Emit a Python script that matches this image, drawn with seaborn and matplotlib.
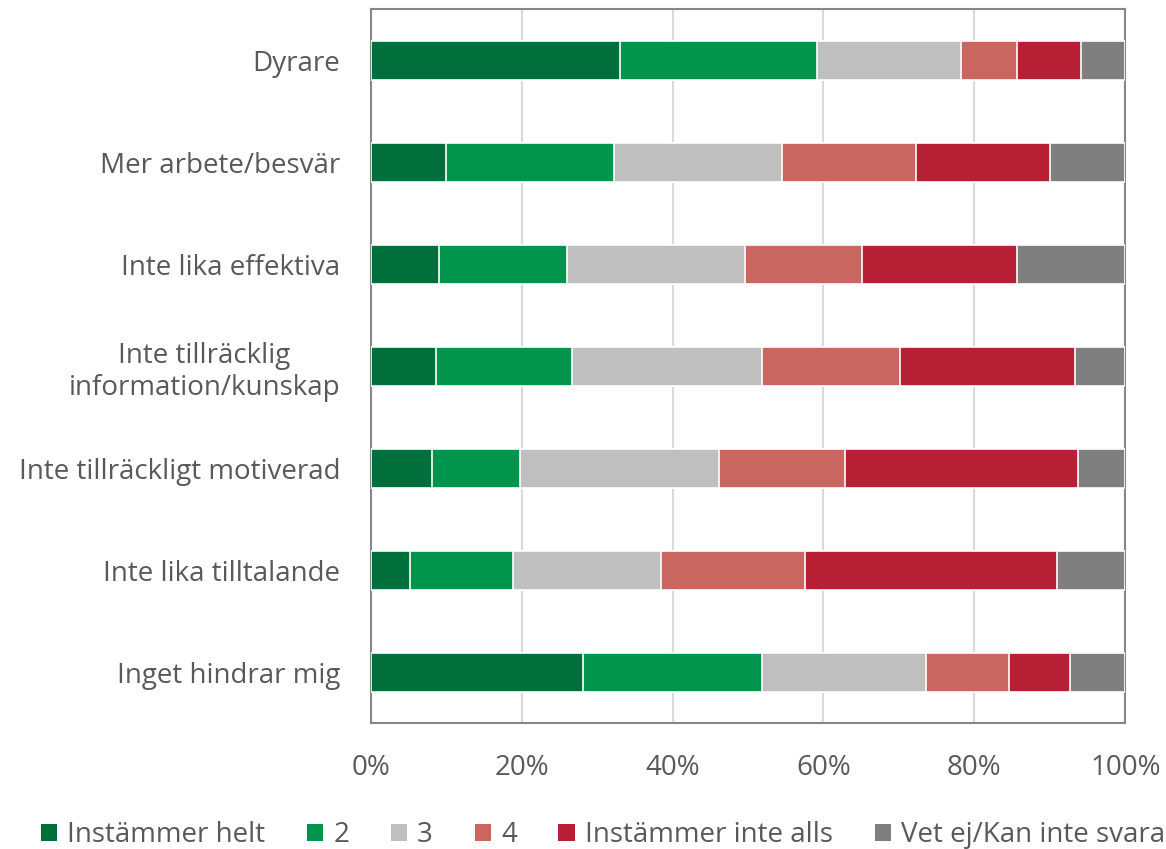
import numpy as np
import pandas as pd
import matplotlib
matplotlib.use('Agg')
import matplotlib.pyplot as plt
from matplotlib.patches import Patch
from matplotlib.ticker import PercentFormatter
import seaborn as sns

# Survey categories (top to bottom)
categories = [
    'Dyrare',
    'Mer arbete/besvär',
    'Inte lika effektiva',
    'Inte tillräcklig\ninformation/kunskap',
    'Inte tillräckligt motiverad',
    'Inte lika tilltalande',
    'Inget hindrar mig',
]

# Answer shares in percent, one list per answer option
helt = [33.1, 10.0, 9.1, 8.6, 8.1, 5.2, 28.1]
svar2 = [26.0, 22.3, 16.9, 18.1, 11.7, 13.7, 23.8]
svar3 = [19.1, 22.2, 23.6, 25.2, 26.4, 19.6, 21.7]
svar4 = [7.5, 17.8, 15.5, 18.2, 16.6, 19.0, 11.0]
inte_alls = [8.5, 17.7, 20.5, 23.2, 31.0, 33.5, 8.1]
vet_ej = [5.8, 10.0, 14.4, 6.7, 6.2, 9.0, 7.3]

series_names = ['Instämmer helt', '2', '3', '4', 'Instämmer inte alls', 'Vet ej/Kan inte svara']
colors = ['#006F3B', '#00944C', '#BFBFBF', '#C8665F', '#B61F34', '#7F7F7F']

df = pd.DataFrame({'kategori': categories})
for name, vals in zip(series_names, [helt, svar2, svar3, svar4, inte_alls, vet_ej]):
    df[name] = vals

# normalise rows to 100% and build cumulative sums for stacking
vals = df[series_names].to_numpy(dtype=float)
vals = vals / vals.sum(axis=1, keepdims=True) * 100
cum = np.cumsum(vals, axis=1)

sns.set_theme(style='white')
plt.rcParams['font.family'] = ['Open Sans', 'DejaVu Sans']

fig = plt.figure(figsize=(11.66, 8.49), dpi=100)
ax = fig.add_axes([0.318, 0.148, 0.647, 0.841])

# draw from the last (largest cumulative) to the first so they overlay into stacks
for i in range(len(series_names) - 1, -1, -1):
    sns.barplot(x=cum[:, i], y=df['kategori'], orient='h', color=colors[i],
                width=0.38, edgecolor='white', linewidth=1.2, saturation=1,
                ax=ax, zorder=3)

ax.set_xlim(0, 100)
ax.set_xticks([0, 20, 40, 60, 80, 100])
ax.xaxis.set_major_formatter(PercentFormatter(decimals=0))
ax.set_xlabel('')
ax.set_ylabel('')
ax.grid(axis='x', color='#D9D9D9', linewidth=1.5, zorder=0)
ax.grid(axis='y', visible=False)
for sp in ax.spines.values():
    sp.set_color('#878787')
    sp.set_linewidth(1.5)
ax.tick_params(axis='both', length=0, labelsize=20, colors='#595959')
ax.tick_params(axis='x', pad=22)
ax.tick_params(axis='y', pad=22)
for lbl in ax.get_yticklabels():
    lbl.set_horizontalalignment('right')
    lbl.set_multialignment('center')

handles = [Patch(facecolor=c, edgecolor='none') for c in colors]
fig.legend(handles, series_names, loc='center', bbox_to_anchor=(0.517, 0.016),
           ncol=6, frameon=False, fontsize=20, handlelength=0.6, handleheight=0.6,
           handletextpad=0.35, columnspacing=1.5, labelcolor='#595959')

fig.savefig('out.png', dpi=100)
